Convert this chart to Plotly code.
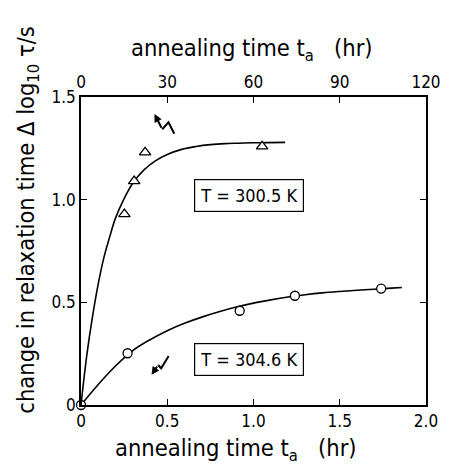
import plotly.graph_objects as go

# ---- data ----
# T = 300.5 K  (top axis, hours 0-120)
tri_t = [15.1, 18.5, 22.3, 63.0]
tri_y = [0.93, 1.09, 1.23, 1.26]
tri_curve_t = [0, 2, 4, 6, 8, 10, 12, 15, 18, 22, 26, 30, 35, 40, 45, 50, 55, 60, 65, 71]
tri_curve_y = [0, 0.24, 0.43, 0.59, 0.72, 0.82, 0.91, 1.005, 1.08, 1.146, 1.19, 1.22,
               1.245, 1.259, 1.268, 1.273, 1.275, 1.277, 1.278, 1.279]

# T = 304.6 K  (bottom axis, hours 0-2)
circ_t = [0, 0.27, 0.92, 1.24, 1.74]
circ_y = [0, 0.252, 0.459, 0.532, 0.567]
circ_curve_t = [0, 0.1, 0.2, 0.3, 0.4, 0.5, 0.6, 0.7, 0.8, 0.9, 1.0, 1.1, 1.2, 1.3,
                1.4, 1.5, 1.6, 1.7, 1.8, 1.86]
circ_curve_y = [0, 0.1, 0.19, 0.265, 0.318, 0.362, 0.398, 0.428, 0.454, 0.477, 0.496,
                0.512, 0.526, 0.537, 0.546, 0.553, 0.559, 0.564, 0.569, 0.572]

bottom_ticks = [0, 0.5, 1.0, 1.5, 2.0]
bottom_ticktext = ["0", "0.5", "1.0", "1.5", "2.0"]
top_ticks = [0, 30, 60, 90, 120]
y_ticks = [0, 0.5, 1.0, 1.5]
y_ticktext = ["0", "0.5", "1.0", "1.5"]

FONT = "DejaVu Sans Condensed, DejaVu Sans, sans-serif"
BLACK = "black"

fig = go.Figure()

fig.add_trace(go.Scatter(x=tri_curve_t, y=tri_curve_y, mode="lines", xaxis="x2", yaxis="y",
                         line=dict(color=BLACK, width=1.6, shape="spline"),
                         showlegend=False, hoverinfo="skip"))
fig.add_trace(go.Scatter(x=circ_curve_t, y=circ_curve_y, mode="lines",
                         line=dict(color=BLACK, width=1.6, shape="spline"),
                         showlegend=False, hoverinfo="skip"))
fig.add_trace(go.Scatter(x=tri_t, y=tri_y, mode="markers", xaxis="x2", yaxis="y",
                         marker=dict(symbol="triangle-up", size=10, color="white",
                                     line=dict(color=BLACK, width=1.3)),
                         showlegend=False, cliponaxis=False))
fig.add_trace(go.Scatter(x=circ_t, y=circ_y, mode="markers",
                         marker=dict(symbol="circle", size=9, color="white",
                                     line=dict(color=BLACK, width=1.3)),
                         showlegend=False, cliponaxis=False))

axis_common = dict(showline=True, linecolor=BLACK, linewidth=1.5, ticks="inside",
                   ticklen=6, tickwidth=1.3, tickcolor=BLACK, showgrid=False,
                   zeroline=False, tickfont=dict(family=FONT, size=17, color=BLACK))

fig.update_layout(
    width=453, height=464,
    margin=dict(l=81, r=15, t=97, b=59),
    paper_bgcolor="white", plot_bgcolor="white",
    xaxis=dict(range=[0, 2], tickvals=bottom_ticks, ticktext=bottom_ticktext,
               mirror=False, **axis_common),
    xaxis2=dict(range=[0, 120], tickvals=top_ticks, overlaying="x", side="top",
                anchor="y", **axis_common),
    yaxis=dict(range=[0, 1.5], tickvals=y_ticks, ticktext=y_ticktext,
               mirror="ticks", **axis_common),
    font=dict(family=FONT, color=BLACK),
)

# axis titles as annotations
fig.add_annotation(text="annealing time t<sub>a</sub>   (hr)", xref="paper", yref="paper",
                   x=0.45, y=-0.143, xanchor="center", yanchor="middle", showarrow=False,
                   font=dict(family=FONT, size=23.5, color=BLACK))
fig.add_annotation(text="annealing time t<sub>a</sub>   (hr)", xref="paper", yref="paper",
                   x=0.497, y=1.153, xanchor="center", yanchor="middle", showarrow=False,
                   font=dict(family=FONT, size=23.5, color=BLACK))
fig.add_annotation(text="change in relaxation time \u0394 log<sub>10</sub> \u03c4/s",
                   xref="paper", yref="paper", x=-0.155, y=0.6, textangle=-90,
                   xanchor="center", yanchor="middle", showarrow=False,
                   font=dict(family=FONT, size=23.5, color=BLACK))

# boxed labels
fig.add_annotation(text="T = 300.5 K", x=0.973, y=1.021, xref="x", yref="y",
                   showarrow=False, bordercolor=BLACK, borderwidth=1.2, borderpad=5,
                   bgcolor="white", font=dict(family=FONT, size=18, color=BLACK))
fig.add_annotation(text="T = 304.6 K", x=0.976, y=0.223, xref="x", yref="y",
                   showarrow=False, bordercolor=BLACK, borderwidth=1.2, borderpad=5,
                   bgcolor="white", font=dict(family=FONT, size=18, color=BLACK))

# zigzag arrows
fig.add_shape(type="path", path="M 0.471 1.343 L 0.507 1.377 L 0.541 1.321",
              xref="x", yref="y", line=dict(color=BLACK, width=2))
fig.add_annotation(x=0.426, y=1.417, ax=0.471, ay=1.343, axref="x", ayref="y",
                   xref="x", yref="y", text="", showarrow=True, arrowhead=2,
                   arrowsize=0.8, arrowwidth=2, arrowcolor=BLACK)
fig.add_shape(type="path", path="M 0.447 0.195 L 0.465 0.179 L 0.508 0.239",
              xref="x", yref="y", line=dict(color=BLACK, width=2))
fig.add_annotation(x=0.409, y=0.147, ax=0.447, ay=0.195, axref="x", ayref="y",
                   xref="x", yref="y", text="", showarrow=True, arrowhead=2,
                   arrowsize=0.8, arrowwidth=2, arrowcolor=BLACK)

fig.write_html("out.html")
